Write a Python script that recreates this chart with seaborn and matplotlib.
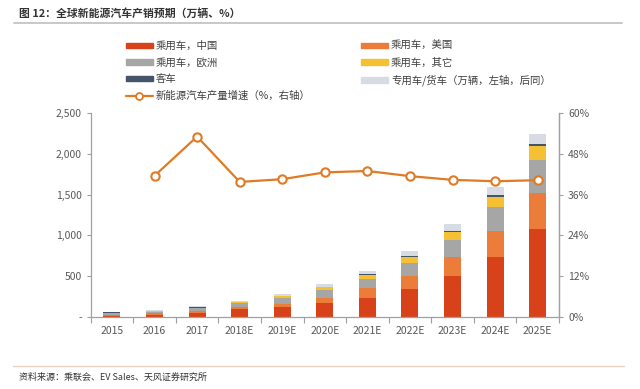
import numpy as np
import pandas as pd
import matplotlib
matplotlib.use("Agg")
import matplotlib.pyplot as plt
import matplotlib.patches as mpatches
import matplotlib.lines as mlines
from matplotlib.ticker import FuncFormatter, FixedLocator
import seaborn as sns

# ---------------- data ----------------
years = ["2015", "2016", "2017", "2018E", "2019E", "2020E",
         "2021E", "2022E", "2023E", "2024E", "2025E"]
china  = [20, 33, 58, 98, 122, 171, 240, 350, 509, 741, 1083]
usa    = [12, 15, 20, 25, 40, 69, 122, 159, 232, 317, 440]
europe = [19, 22, 30, 50, 75, 95, 102, 158, 204, 286, 400]
other  = [5, 5, 8, 10, 20, 30, 53, 74, 101, 130, 175]
bus    = [7, 8, 10, 5, 6, 8, 12, 12, 12, 20, 21]
truck  = [2, 6, 12, 11, 22, 30, 41, 61, 82, 102, 122]
growth = [np.nan, 41.5, 53.0, 39.7, 40.5, 42.5, 42.9, 41.4, 40.3, 39.9, 40.2]

series_names = ["乘用车，中国", "乘用车，美国", "乘用车，欧洲", "乘用车，其它",
                "客车", "专用车/货车（万辆，左轴，后同）"]
line_name = "新能源汽车产量增速（%，右轴）"
colors = ["#D7421B", "#EC7C3A", "#A6A6A6", "#F5C033", "#44546A", "#D7DCE4"]
line_color = "#E07B24"

sns.set_theme(style="white")
plt.rcParams["font.family"] = ["Noto Sans CJK SC", "DejaVu Sans"]

df = pd.DataFrame({"year": years, "c0": china, "c1": usa, "c2": europe,
                   "c3": other, "c4": bus, "c5": truck, "growth": growth})
layers = ["c0", "c1", "c2", "c3", "c4", "c5"]
cum = df[layers].cumsum(axis=1)

fig = plt.figure(figsize=(6.4, 3.89), dpi=100)
ax = fig.add_axes([0.1417, 0.1843, 0.7317, 0.526])

# stacked bars: draw cumulative totals from top layer down
for i in range(len(layers) - 1, -1, -1):
    tmp = pd.DataFrame({"year": years, "v": cum[layers[i]]})
    sns.barplot(data=tmp, x="year", y="v", order=years, color=colors[i],
                width=0.4, saturation=1, ax=ax, linewidth=0)

ax.set_xlim(-0.5, len(years) - 0.5)
ax.set_ylim(0, 2500)
ax.set_yticks([0, 500, 1000, 1500, 2000, 2500])
ax.yaxis.set_major_formatter(FuncFormatter(lambda v, p: "-" if v == 0 else f"{int(v):,}"))
ax.set_xlabel("")
ax.set_ylabel("")

tick_col = "#595959"
spine_col = "#A0A0A0"
ax.spines["top"].set_visible(False)
for s in ["left", "bottom", "right"]:
    ax.spines[s].set_color(spine_col)
    ax.spines[s].set_linewidth(0.9)
ax.tick_params(axis="y", labelsize=7.5, colors=tick_col, length=3, width=0.8,
               direction="out", left=True, color=spine_col)
ax.tick_params(axis="x", which="major", labelsize=7.5, colors=tick_col, length=0, pad=6)
ax.xaxis.set_minor_locator(FixedLocator([i + 0.5 for i in range(-1, len(years))]))
ax.tick_params(axis="x", which="minor", length=4, width=0.8, color=spine_col, bottom=True)

# growth line on right axis
ax2 = ax.twinx()
xpos = np.arange(len(years))
gdf = pd.DataFrame({"x": xpos, "g": growth}).dropna()
sns.lineplot(data=gdf, x="x", y="g", ax=ax2, color=line_color, linewidth=1.6,
             marker="o", markersize=6, markerfacecolor="white",
             markeredgecolor=line_color, markeredgewidth=1.5)
ax2.set_ylim(0, 60)
ax2.set_yticks([0, 12, 24, 36, 48, 60])
ax2.yaxis.set_major_formatter(FuncFormatter(lambda v, p: f"{int(v)}%"))
ax2.set_xlim(-0.5, len(years) - 0.5)
ax2.set_ylabel("")
ax2.set_xlabel("")
ax2.spines["top"].set_visible(False)
ax2.spines["left"].set_visible(False)
ax2.spines["bottom"].set_visible(False)
ax2.spines["right"].set_color(spine_col)
ax2.spines["right"].set_linewidth(0.9)
ax2.tick_params(axis="y", labelsize=7.5, colors=tick_col, length=3, width=0.8,
                right=True, color=spine_col)
ax2.grid(False)
ax.grid(False)

# legend
h = [mpatches.Patch(color=c) for c in colors]
lh = mlines.Line2D([], [], color=line_color, linewidth=1.6, marker="o", markersize=5,
                   markerfacecolor="white", markeredgecolor=line_color, markeredgewidth=1.3)
handles = [h[0], h[2], h[4], lh, h[1], h[3], h[5]]
labels = [series_names[0], series_names[2], series_names[4], line_name,
          series_names[1], series_names[3], series_names[5]]
leg = fig.legend(handles, labels, ncol=2, loc="upper left",
                 bbox_to_anchor=(0.19, 0.905), frameon=False, fontsize=7.5,
                 handlelength=2.6, handleheight=0.45, handletextpad=0.3,
                 columnspacing=4.8, labelspacing=0.62, borderaxespad=0)
for t in leg.get_texts():
    t.set_color("#404040")

# title and source
fig.text(0.03, 0.965, "图 12：全球新能源汽车产销预期（万辆、%）", fontsize=7.8,
         fontweight="bold", color="#333333", va="center", ha="left")
fig.add_artist(mlines.Line2D([0.022, 0.972], [0.941, 0.941], transform=fig.transFigure,
                             color="#C8C8C8", linewidth=1.4))
fig.add_artist(mlines.Line2D([0.02, 0.975], [0.059, 0.059], transform=fig.transFigure,
                             color="#E8D3C3", linewidth=1.0))
fig.text(0.03, 0.031, "资料来源：乘联会、EV Sales、天风证券研究所", fontsize=6.5,
         color="#333333", va="center", ha="left")

fig.savefig("out.png", dpi=100, facecolor="white")
